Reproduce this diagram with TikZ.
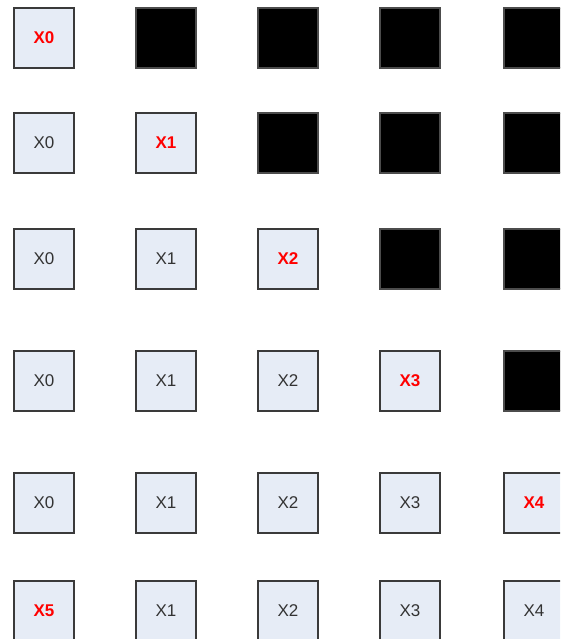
\documentclass[tikz,border=0pt]{standalone}
\usepackage{fontspec}
\setmainfont{Liberation Sans}
\definecolor{cellfill}{HTML}{E6ECF6}
\definecolor{cellline}{HTML}{3A3A3A}
\definecolor{celltext}{HTML}{333333}
\definecolor{hot}{HTML}{FF0000}
\begin{document}
\begin{tikzpicture}[x=1pt,y=-1pt,
  cell/.style={draw=cellline, line width=1.4pt, fill=cellfill, minimum width=60pt, minimum height=60pt, inner sep=0pt, font=\fontsize{17}{20}\selectfont, text=celltext},
  hotcell/.style={cell, text=hot, font=\fontsize{17}{20}\selectfont\bfseries},
  blank/.style={cell, fill=black, draw=black!70}]
\useasboundingbox (0,0) rectangle (560,639);
\clip (0,0) rectangle (560,639);
\def\colx{{44,166,288,410,534}}
\def\rowy{{38,143,259,381,503,611}}
\foreach \r in {1,...,5}{
  \foreach \c in {1,...,5}{
    \pgfmathsetmacro{\xx}{\colx[\c-1]}
    \pgfmathsetmacro{\yy}{\rowy[\r-1]}
    \pgfmathtruncatemacro{\lab}{\c-1}
    \ifnum\c<\r
      \node[cell] (b-\r-\c) at (\xx,\yy) {X\lab};
    \else\ifnum\c=\r
      \node[hotcell] (b-\r-\c) at (\xx,\yy) {X\lab};
    \else
      \node[blank] (b-\r-\c) at (\xx,\yy) {};
    \fi\fi
  }
}
\node[hotcell] (b-6-1) at (44,611) {X5};
\foreach \c in {2,...,5}{
  \pgfmathsetmacro{\xx}{\colx[\c-1]}
  \pgfmathtruncatemacro{\lab}{\c-1}
  \node[cell] (b-6-\c) at (\xx,611) {X\lab};
}
\end{tikzpicture}
\end{document}
